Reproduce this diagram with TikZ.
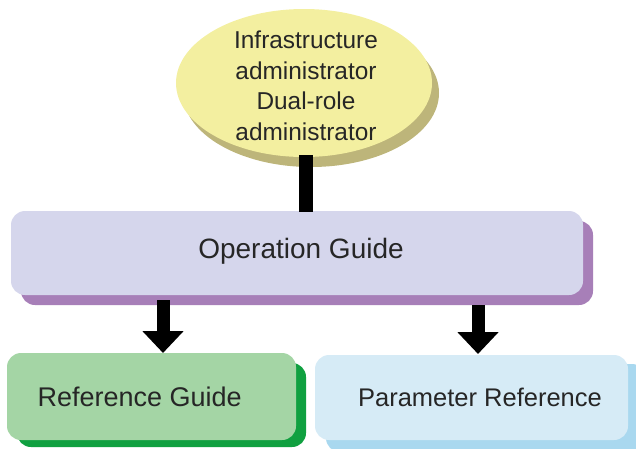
\documentclass[tikz,border=0pt]{standalone}
\usepackage{fontspec}
\setmainfont{Liberation Sans}
\usetikzlibrary{shapes.geometric,arrows.meta}
\definecolor{ellfill}{HTML}{F3EFA0}
\definecolor{ellshad}{HTML}{BDB57A}
\definecolor{opfill}{HTML}{D5D6EC}
\definecolor{opshad}{HTML}{A77FB8}
\definecolor{reffill}{HTML}{A4D5A5}
\definecolor{refshad}{HTML}{10A040}
\definecolor{parfill}{HTML}{D6EBF6}
\definecolor{parshad}{HTML}{A9D8EF}
\tikzset{
  boxshape/.style={rounded corners=14pt, draw=none},
  bigarrow/.style={-{Triangle[width=40pt,length=22pt]}, line width=13pt, draw=black},
  bartie/.style={line width=14pt, draw=black},
  lbl/.style={text=black!85}
}
\begin{document}
\begin{tikzpicture}[x=1pt,y=-1pt]
\useasboundingbox (0,0) rectangle (636,448);
% ellipse
\fill[ellshad] (311,93) ellipse [x radius=128, y radius=74];
\fill[ellfill] (304,83) ellipse [x radius=128, y radius=74];
\node[align=center, font=\fontsize{24.4}{30.5}\selectfont, text=black!85] (admin) at (306,86) {Infrastructure\\administrator\\Dual-role\\administrator};
\coordinate (ellbot) at (306,155);
% operation guide
\fill[opshad, boxshape] (21,221) rectangle (593,305);
\fill[opfill, boxshape] (11,211) rectangle (583,295);
\node[lbl, font=\fontsize{28}{32}\selectfont] (op) at (301,251) {Operation Guide};
\coordinate (optop) at (306,212);
\draw[bartie] (ellbot) -- (optop);
% reference guide
\fill[refshad, boxshape] (17,363) rectangle (306,447);
\fill[reffill, boxshape] (7,353) rectangle (296,440);
\node[lbl, anchor=west, font=\fontsize{27}{31}\selectfont] (ref) at (34,397) {Reference Guide};
% parameter reference
\fill[parshad, boxshape] (326,364) rectangle (646,452);
\fill[parfill, boxshape] (315,355) rectangle (628,440);
\node[lbl, font=\fontsize{25.5}{30}\selectfont] (par) at (480,397) {Parameter Reference};
% arrows
\coordinate (a1s) at (163,300);
\coordinate (a1e) at (163,353);
\coordinate (a2s) at (478,305);
\coordinate (a2e) at (478,354);
\draw[bigarrow] (a1s) -- (a1e);
\draw[bigarrow] (a2s) -- (a2e);
\end{tikzpicture}
\end{document}
